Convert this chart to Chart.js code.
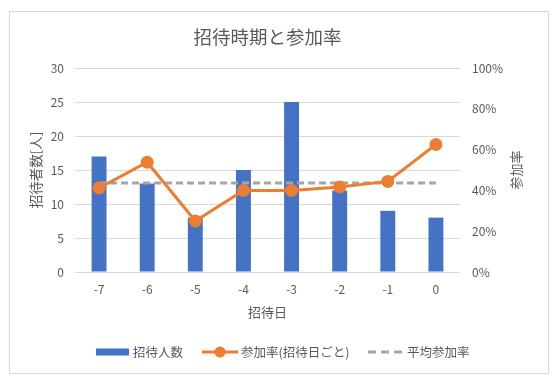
<!DOCTYPE html>
<html><head><meta charset="utf-8">
<script src="https://cdn.jsdelivr.net/npm/chart.js@4/dist/chart.umd.min.js"></script>
<style>html,body{margin:0;padding:0;background:#fff;overflow:hidden}canvas{display:block}</style>
</head><body>
<canvas id="c" width="556" height="383"></canvas>
<script>
const categories = ['-7','-6','-5','-4','-3','-2','-1','0'];
const invited = [17, 13, 8, 15, 25, 12, 9, 8];
const rate = [0.412, 0.538, 0.25, 0.40, 0.40, 0.417, 0.444, 0.625];
const avgRate = [0.436, 0.436, 0.436, 0.436, 0.436, 0.436, 0.436, 0.436];
const leftTicks = [0, 5, 10, 15, 20, 25, 30];
const rightTicks = [0, 0.2, 0.4, 0.6, 0.8, 1.0];
const seriesNames = ['招待人数', '参加率(招待日ごと)', '平均参加率'];
const chartTitle = '招待時期と参加率';
const xTitle = '招待日';
const yTitle = '招待者数[人]';
const y1Title = '参加率';

const FONT = '"Noto Sans CJK JP", "Noto Sans", sans-serif';
const TXT = '#595959';
const BLUE = '#4472C4', ORANGE = '#ED7D31', GRAY = '#A5A5A5';

const deco = {
  id: 'deco',
  beforeDraw(chart) {
    const ctx = chart.ctx;
    ctx.save();
    ctx.fillStyle = '#fff';
    ctx.fillRect(0, 0, chart.width, chart.height);
    ctx.restore();
  },
  afterDraw(chart) {
    const ctx = chart.ctx, a = chart.chartArea;
    ctx.save();
    // border
    ctx.strokeStyle = '#D9D9D9'; ctx.lineWidth = 1;
    ctx.strokeRect(9.5, 11.5, 539, 362);
    ctx.fillStyle = TXT;
    ctx.textAlign = 'center'; ctx.textBaseline = 'middle';
    // title
    ctx.font = '18.5px ' + FONT;
    ctx.fillText(chartTitle, (a.left + a.right) / 2, 37);
    // x title
    ctx.font = '13px ' + FONT;
    ctx.fillText(xTitle, (a.left + a.right) / 2, 312);
    // y title
    ctx.save();
    ctx.translate(36, (a.top + a.bottom) / 2);
    ctx.rotate(-Math.PI / 2);
    ctx.font = '13.5px ' + FONT;
    ctx.fillText(yTitle, 0, 0);
    ctx.restore();
    // y1 title
    ctx.save();
    ctx.translate(516, 170);
    ctx.rotate(-Math.PI / 2);
    ctx.font = '13px ' + FONT;
    ctx.fillText(y1Title, 0, 0);
    ctx.restore();
    // legend
    const ly = 352;
    ctx.font = '12.5px ' + FONT;
    ctx.textAlign = 'left';
    ctx.fillStyle = BLUE;
    ctx.fillRect(96, ly - 3.5, 33, 7);
    ctx.fillStyle = TXT;
    ctx.fillText(seriesNames[0], 133, ly);
    ctx.strokeStyle = ORANGE; ctx.lineWidth = 3;
    ctx.beginPath(); ctx.moveTo(202, ly); ctx.lineTo(238, ly); ctx.stroke();
    ctx.fillStyle = ORANGE;
    ctx.beginPath(); ctx.arc(220, ly, 5.5, 0, Math.PI * 2); ctx.fill();
    ctx.fillStyle = TXT;
    ctx.fillText(seriesNames[1], 241, ly);
    ctx.strokeStyle = GRAY; ctx.lineWidth = 3;
    ctx.setLineDash([8, 5]);
    ctx.beginPath(); ctx.moveTo(368, ly); ctx.lineTo(402, ly); ctx.stroke();
    ctx.setLineDash([]);
    ctx.fillStyle = TXT;
    ctx.fillText(seriesNames[2], 407, ly);
    ctx.restore();
  }
};

new Chart(document.getElementById('c'), {
  data: {
    labels: categories,
    datasets: [
      { type: 'line', label: seriesNames[1], data: rate, yAxisID: 'y1', order: 0,
        borderColor: ORANGE, backgroundColor: ORANGE, borderWidth: 3,
        pointRadius: 6.5, pointHoverRadius: 6.5, pointBorderWidth: 0, tension: 0 },
      { type: 'line', label: seriesNames[2], data: avgRate, yAxisID: 'y1', order: 1,
        borderColor: GRAY, borderWidth: 3, borderDash: [7, 4], pointRadius: 0, tension: 0 },
      { type: 'bar', label: seriesNames[0], data: invited, yAxisID: 'y', order: 2,
        backgroundColor: BLUE, categoryPercentage: 1, barPercentage: 0.31 }
    ]
  },
  options: {
    responsive: false, animation: false, devicePixelRatio: 1,
    layout: { padding: { top: 68, left: 0, right: 0, bottom: 0 } },
    plugins: { legend: { display: false }, title: { display: false }, tooltip: { enabled: false } },
    scales: {
      x: {
        offset: true,
        grid: { display: false, drawTicks: false },
        border: { display: false },
        ticks: { color: TXT, font: { family: FONT, size: 12 }, padding: 10 },
        afterFit(s) { s.height = 111; }
      },
      y: {
        position: 'left', min: leftTicks[0], max: leftTicks[leftTicks.length - 1],
        afterBuildTicks(s) { s.ticks = leftTicks.map(v => ({ value: v })); },
        grid: { color: '#D9D9D9', lineWidth: 1, drawTicks: false },
        border: { display: false },
        ticks: { color: TXT, font: { family: FONT, size: 12 }, padding: 11 },
        afterFit(s) { s.width = 75; }
      },
      y1: {
        position: 'right', min: rightTicks[0], max: rightTicks[rightTicks.length - 1],
        afterBuildTicks(s) { s.ticks = rightTicks.map(v => ({ value: v })); },
        grid: { display: false, drawTicks: false },
        border: { display: false },
        ticks: { color: TXT, font: { family: FONT, size: 12 }, padding: 12,
          callback: v => Math.round(v * 100) + '%' },
        afterFit(s) { s.width = 96; }
      }
    }
  },
  plugins: [deco]
});
</script>
</body></html>
